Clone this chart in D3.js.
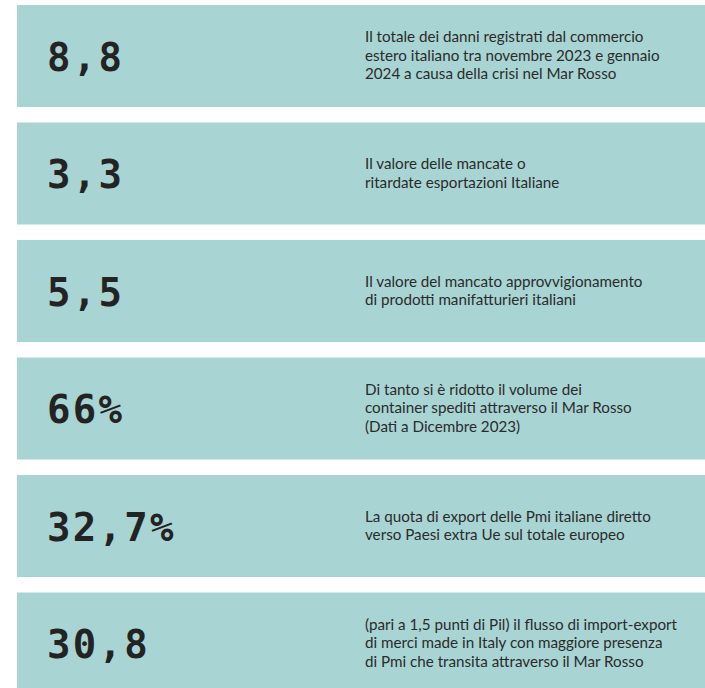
<!DOCTYPE html>
<html>
<head>
<meta charset="utf-8">
<script src="https://cdn.jsdelivr.net/npm/d3@7"></script>
<style>
  html, body { margin: 0; padding: 0; background: #ffffff; }
  svg { display: block; }
</style>
</head>
<body>
<div id="chart"></div>
<script>
// ---- data ----
const figures = ["8,8", "3,3", "5,5", "66%", "32,7%", "30,8"];
const descriptions = [
  ["Il totale dei danni registrati dal commercio", "estero italiano tra novembre 2023 e gennaio", "2024 a causa della crisi nel Mar Rosso"],
  ["Il valore delle mancate o", "ritardate esportazioni Italiane"],
  ["Il valore del mancato approvvigionamento", "di prodotti manifatturieri italiani"],
  ["Di tanto si è ridotto il volume dei", "container spediti attraverso il Mar Rosso", "(Dati a Dicembre 2023)"],
  ["La quota di export delle Pmi italiane diretto", "verso Paesi extra Ue sul totale europeo"],
  ["(pari a 1,5 punti di Pil) il flusso di import-export", "di merci made in Italy con maggiore presenza", "di Pmi che transita attraverso il Mar Rosso"]
];

// ---- layout ----
const W = 705, H = 688;
const svg = d3.select("#chart").append("svg").attr("width", W).attr("height", H);

const idx = d3.range(figures.length);
const y = d3.scaleBand().domain(idx).range([5, 5 + 6 * 117.5 - 15.5]).paddingInner(0.132).paddingOuter(0);
const x = d3.scaleLinear().domain([0, 1]).range([17, 705]);

const rows = svg.selectAll("g.row").data(idx).join("g")
  .attr("class", "row")
  .attr("transform", d => `translate(0,${y(d)})`);

rows.append("rect")
  .attr("x", x(0)).attr("y", 0)
  .attr("width", x(1) - x(0)).attr("height", y.bandwidth())
  .attr("fill", "#a8d4d3");

rows.append("text")
  .attr("x", 47)
  .attr("y", y.bandwidth() / 2 + 15)
  .attr("font-family", "'DejaVu Sans Mono', monospace")
  .attr("font-size", 39)
  .attr("font-weight", "bold")
  .attr("letter-spacing", 2.3)
  .attr("fill", "#232323")
  .text(d => figures[d]);

const lh = 18.5;
rows.each(function(d) {
  const lines = descriptions[d];
  const g = d3.select(this);
  const t = g.append("text")
    .attr("font-family", "Lato, sans-serif")
    .attr("font-size", 15.2)
    .attr("fill", "#2b2b2b");
  const startY = y.bandwidth() / 2 - (lines.length - 1) * lh / 2 + 5;
  lines.forEach((ln, i) => {
    t.append("tspan").attr("x", 365).attr("y", startY + i * lh).text(ln);
  });
});
</script>
</body>
</html>
